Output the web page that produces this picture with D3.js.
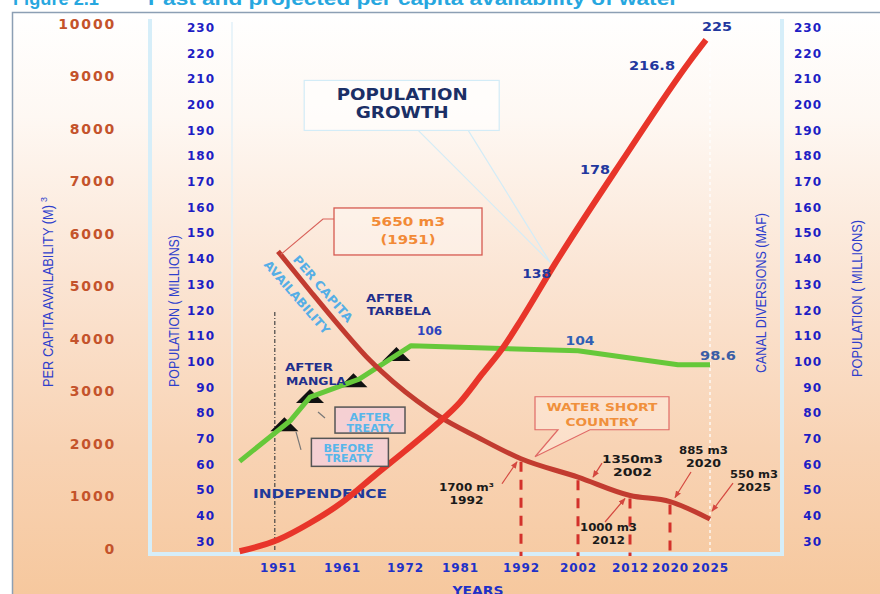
<!DOCTYPE html>
<html>
<head>
<meta charset="utf-8">
<script src="https://cdn.jsdelivr.net/npm/d3@7"></script>
<style>
  html, body { margin: 0; padding: 0; background: #fff; }
  svg { display: block; }
</style>
</head>
<body>
<svg id="chart" width="880" height="594"></svg>
<script>
// ---------------- data ----------------
const yearTicks = [1951, 1961, 1972, 1981, 1992, 2002, 2012, 2020, 2025];
const perCapitaTicks = d3.range(0, 10001, 1000);
const populationTicks = d3.range(30, 231, 10);

// population (millions)
const popYears  = [1945, 1951, 1956, 1961, 1967, 1972, 1977, 1981, 1985, 1989, 1992, 1998, 2010.5, 2022.5, 2024.5];
const popValues = [26, 30.5, 37, 45, 56, 65, 75, 84, 95, 106, 116, 138, 178, 216.8, 225];
const popLabelYears = [1998, 2010.5, 2022.5, 2024.5];

// per capita water availability (m3)
const perCapitaYears  = [1951, 1956, 1961, 1966, 1970, 1974, 1978, 1984, 1992, 2002, 2012, 2020, 2025];
const perCapitaValues = [5650, 4900, 4170, 3560, 3160, 2800, 2480, 2120, 1700, 1350, 1000, 885, 550];

// canal diversions (MAF)
const canalYears  = [1945, 1953, 1956, 1964, 1973, 2002, 2021, 2025];
const canalValues = [61, 77, 86, 93, 106, 104, 98.6, 98.6];
const canalLabelYears = [1973, 2002, 2025];

// storage milestones along the canal diversion line
const damYears = [1952, 1956, 1963, 1970.5];
const damNames = [["BEFORE", "TREATY"], ["AFTER", "TREATY"], ["AFTER", "MANGLA"], ["AFTER", "TARBELA"]];

const independenceYear = 1950.5;

// ---------------- helpers ----------------
const svg = d3.select("#chart");
const defs = svg.append("defs");
const FONT = "'DejaVu Sans', Verdana, sans-serif";
const SANS = "'Liberation Sans', Arial, sans-serif";

function txt(parent, s, x, y, o = {}) {
  const t = parent.append("text")
    .attr("x", x).attr("y", y)
    .attr("text-anchor", o.anchor || "middle")
    .attr("fill", o.fill || "#111")
    .style("font-family", o.family || FONT)
    .style("font-size", (o.size || 12) + "px")
    .style("font-weight", o.weight || "bold")
    .text(s);
  if (o.len) t.attr("textLength", o.len).attr("lengthAdjust", "spacingAndGlyphs");
  if (o.ls) t.attr("letter-spacing", o.ls);
  return t;
}

function interp(xs, ys, v) {
  const i = Math.max(1, Math.min(xs.length - 1, d3.bisectLeft(xs, v)));
  const t = (v - xs[i - 1]) / (xs[i] - xs[i - 1]);
  return ys[i - 1] + t * (ys[i] - ys[i - 1]);
}

// ---------------- scales ----------------
// the year axis of this chart is not uniform: each labelled year is its own stop
const x = d3.scaleLinear().domain(yearTicks).range([278, 342, 405, 460, 521, 578, 630, 670, 710]);
const yPC = d3.scaleLinear().domain([0, 10000]).range([548, 23]);
const yPop = d3.scaleLinear().domain([30, 230]).range([541, 27]);

const baseY = 554;

// ---------------- background ----------------
const grad = defs.append("linearGradient").attr("id", "bg")
  .attr("gradientUnits", "userSpaceOnUse")
  .attr("x1", 0).attr("y1", 12).attr("x2", 0).attr("y2", 594);
[[0, "#ffffff"], [0.18, "#fef8f3"], [0.45, "#fbe5d4"], [0.75, "#f8d3b4"], [1, "#f6c89e"]]
  .forEach(([o, c]) => grad.append("stop").attr("offset", o).attr("stop-color", c));

defs.append("marker").attr("id", "arrow")
  .attr("viewBox", "0 0 10 10").attr("refX", 9).attr("refY", 5)
  .attr("markerWidth", 6).attr("markerHeight", 6).attr("orient", "auto")
  .append("path").attr("d", "M0,1L10,5L0,9z").attr("fill", "#d4473f");

svg.append("rect").attr("width", 880).attr("height", 594).attr("fill", "#fff");

// figure caption
txt(svg, "Figure 2.1", 13, 5, { anchor: "start", fill: "#27a7df", size: 19, family: SANS, len: 86 });
txt(svg, "Past and projected per capita availability of water", 148, 5,
  { anchor: "start", fill: "#27a7df", size: 19, family: SANS, len: 530 });

svg.append("rect").attr("x", 12).attr("y", 12).attr("width", 880).attr("height", 600).attr("fill", "url(#bg)");
svg.append("path").attr("d", "M12.5,594V12.5H880").attr("fill", "none")
  .attr("stroke", "#8c9fb4").attr("stroke-width", 1.5);

// frame lines around the plotting area
svg.append("path").attr("d", `M150,19V${baseY}H782V19`).attr("fill", "none")
  .attr("stroke", "#d6eef9").attr("stroke-width", 4);
svg.append("line").attr("x1", 232).attr("x2", 232).attr("y1", 22).attr("y2", baseY - 2)
  .attr("stroke", "#e2f1f8").attr("stroke-width", 1.5);
svg.append("line").attr("x1", x(2025)).attr("x2", x(2025)).attr("y1", 20).attr("y2", baseY - 2)
  .attr("stroke", "#ffffff").attr("stroke-width", 1.4).attr("stroke-dasharray", "3,3").attr("opacity", 0.9);

// ---------------- population growth callout ----------------
{
  const tx = x(1998) - 5, ty = yPop(138) - 1;
  const g = svg.append("g");
  g.append("path")
    .attr("d", `M${tx - 132},${ty - 132}L${tx},${ty}L${tx - 82},${ty - 132}`)
    .attr("fill", "none").attr("stroke", "#d3ecf7").attr("stroke-width", 1.2);
  g.append("rect").attr("x", tx - 246).attr("y", ty - 182).attr("width", 195).attr("height", 50)
    .attr("fill", "rgba(255,255,255,0.6)").attr("stroke", "#d3ecf7").attr("stroke-width", 1.2);
  txt(g, "POPULATION", tx - 148, ty - 162, { fill: "#1b2f66", size: 15, len: 131 });
  txt(g, "GROWTH", tx - 148, ty - 144, { fill: "#1b2f66", size: 15, len: 93 });
}

// independence marker (the population line passes over its label)
svg.append("line")
  .attr("x1", x(independenceYear)).attr("x2", x(independenceYear))
  .attr("y1", 312).attr("y2", baseY - 2)
  .attr("stroke", "#444").attr("stroke-width", 1.2).attr("stroke-dasharray", "4,2,1,2");
txt(svg, "INDEPENDENCE", 320, 498, { fill: "#1f3a9a", size: 13, len: 134 });

// ---------------- per capita drop lines ----------------
const pcNotes = [
  { year: 1992, unit: " m³", dx: -54.5, dy: 28, len: [55, 34], from: [35.5, -3], to: [-4, 3], drop: true },
  { year: 2002, unit: "m3", dx: 54.5, dy: -18, len: [61, 39], from: [-30.5, 4], to: [15, 0], drop: true },
  { year: 2012, unit: " m3", dx: -21.5, dy: 31.5, len: [57, 33], from: [-3.5, -5], to: [-5, 3], drop: true },
  { year: 2020, unit: " m3", dx: 33.5, dy: -51.5, len: [49, 35], from: [-12.5, 22], to: [5, -4], drop: true },
  { year: 2025, unit: " m3", dx: 44, dy: -45, len: [48, 34], from: [-21, 9], to: [2, -8], drop: false }
];
pcNotes.forEach(n => {
  n.value = perCapitaValues[perCapitaYears.indexOf(n.year)];
  n.px = x(n.year); n.py = yPC(n.value);
});
svg.append("g").selectAll("line").data(pcNotes.filter(n => n.drop)).join("line")
  .attr("x1", d => d.px).attr("x2", d => d.px)
  .attr("y1", d => d.py + 3).attr("y2", baseY + 2)
  .attr("stroke", "#d3312b").attr("stroke-width", 3).attr("stroke-dasharray", "10,8");

// ---------------- dam markers ----------------
const dams = damYears.map((yr, i) => ({ year: yr, name: damNames[i], cx: x(yr), cy: yPop(interp(canalYears, canalValues, yr)) }));
svg.append("g").selectAll("path").data(dams).join("path")
  .attr("d", d => `M${d.cx},${d.cy - 8}L${d.cx + 14},${d.cy + 6}L${d.cx - 14},${d.cy + 6}Z`)
  .attr("fill", "#111");

// ---------------- lines ----------------
const canalLine = d3.line().x(d => x(d[0])).y(d => yPop(d[1]));
svg.append("path").datum(d3.zip(canalYears, canalValues))
  .attr("d", canalLine).attr("fill", "none")
  .attr("stroke", "#66c83a").attr("stroke-width", 5).attr("stroke-linejoin", "round");

const pcLine = d3.line().x(d => x(d[0])).y(d => yPC(d[1])).curve(d3.curveMonotoneX);
svg.append("path").datum(d3.zip(perCapitaYears, perCapitaValues))
  .attr("d", pcLine).attr("fill", "none")
  .attr("stroke", "#c23b30").attr("stroke-width", 5);

const popLine = d3.line().x(d => x(d[0])).y(d => yPop(d[1])).curve(d3.curveMonotoneX);
svg.append("path").datum(d3.zip(popYears, popValues))
  .attr("d", popLine).attr("fill", "none")
  .attr("stroke", "#e8352a").attr("stroke-width", 6);

// ---------------- annotations ----------------
const ann = svg.append("g");

// per capita start value box
{
  const v = perCapitaValues[0], yr = perCapitaYears[0];
  const px = x(yr), py = yPC(v);
  ann.append("polyline")
    .attr("points", `${px + 56},${py - 32.4} ${px + 45},${py - 32.4} ${px + 3},${py + 3}`)
    .attr("fill", "none").attr("stroke", "#d9625a").attr("stroke-width", 1.2);
  ann.append("rect").attr("x", px + 56).attr("y", py - 43.4).attr("width", 148).attr("height", 47)
    .attr("fill", "rgba(255,255,255,0.3)").attr("stroke", "#d65a50").attr("stroke-width", 1.3);
  txt(ann, `${v} m3`, px + 130, py - 25, { fill: "#f28a36", size: 13, len: 74 });
  txt(ann, `(${yr})`, px + 130, py - 7, { fill: "#f28a36", size: 13, len: 55 });
}

// per capita line label
{
  const g = ann.append("g").attr("transform", "translate(310,293) rotate(49)");
  txt(g, "PER CAPITA", 5.3, -12.6 + 4.3, { fill: "#55aee6", size: 12, len: 84 });
  txt(g, "AVAILABILITY", -5.3, 12.6 + 4.3, { fill: "#55aee6", size: 12, len: 93 });
}

// water short callout
{
  const tx = pcNotes[0].px + 14, ty = pcNotes[0].py - 2;
  ann.append("path")
    .attr("d", `M${tx},${ty - 60}H${tx + 134}V${ty - 27}H${tx + 55}L${tx},${ty}L${tx + 23},${ty - 27}H${tx}Z`)
    .attr("fill", "rgba(255,240,228,0.45)").attr("stroke", "#e06a66").attr("stroke-width", 1.2);
  txt(ann, "WATER SHORT", tx + 67, ty - 46, { fill: "#f0903c", size: 11, len: 111 });
  txt(ann, "COUNTRY", tx + 67, ty - 31, { fill: "#f0903c", size: 11, len: 73 });
}

// per capita value notes with arrows
pcNotes.forEach(n => {
  const lx = n.px + n.dx, ly = n.py + n.dy;
  ann.append("line")
    .attr("x1", lx + n.from[0]).attr("y1", ly + n.from[1])
    .attr("x2", n.px + n.to[0]).attr("y2", n.py + n.to[1])
    .attr("stroke", "#d4473f").attr("stroke-width", 1.2).attr("marker-end", "url(#arrow)");
  txt(ann, `${n.value}${n.unit}`, lx, ly + 4, { fill: "#1a1a1a", size: 11, len: n.len[0] });
  txt(ann, `${n.year}`, lx, ly + 17, { fill: "#1a1a1a", size: 11, len: n.len[1] });
});

// population values
const popNoteStyle = [
  { anchor: "end", dx: -4, dy: 9.6, len: 29 },
  { anchor: "end", dx: -12.2, dy: 8.4, len: 30 },
  { anchor: "end", dx: -15, dy: 4, len: 46 },
  { anchor: "start", dx: -4, dy: -14, len: 30 }
];
popLabelYears.forEach((yr, i) => {
  const v = popValues[popYears.indexOf(yr)], s = popNoteStyle[i];
  txt(ann, `${v}`, x(yr) + s.dx, yPop(v) + s.dy + 4.7,
    { anchor: s.anchor, fill: "#22379e", size: 13, len: s.len });
});

// canal diversion values
const canalNoteStyle = [
  { anchor: "start", dx: 6, dy: -14.7, len: 25, fill: "#2f45bf" },
  { anchor: "middle", dx: 2, dy: -10, len: 29, fill: "#2f5fb5" },
  { anchor: "start", dx: -10, dy: -9.5, len: 36, fill: "#3a5ea6" }
];
canalLabelYears.forEach((yr, i) => {
  const v = canalValues[canalYears.indexOf(yr)], s = canalNoteStyle[i];
  txt(ann, `${v}`, x(yr) + s.dx, yPop(v) + s.dy + 4.5,
    { anchor: s.anchor, fill: s.fill, size: 12, len: s.len });
});

// dam milestone labels
{
  const [before, after, mangla, tarbela] = dams;
  // before treaty
  ann.append("line").attr("x1", before.cx + 16.6).attr("y1", before.cy + 24.6)
    .attr("x2", before.cx + 11.6).attr("y2", before.cy + 6.6).attr("stroke", "#777").attr("stroke-width", 1.2);
  ann.append("rect").attr("x", before.cx + 27).attr("y", before.cy + 13).attr("width", 77).attr("height", 28)
    .attr("fill", "#f5d0d3").attr("stroke", "#555").attr("stroke-width", 1.5);
  txt(ann, before.name[0], before.cx + 64, before.cy + 26.5, { fill: "#58b6ea", size: 10, len: 50 });
  txt(ann, before.name[1], before.cx + 64, before.cy + 36.5, { fill: "#58b6ea", size: 10, len: 47 });
  // after treaty
  ann.append("line").attr("x1", after.cx + 15).attr("y1", after.cy + 21)
    .attr("x2", after.cx + 8).attr("y2", after.cy + 15).attr("stroke", "#777").attr("stroke-width", 1.2);
  ann.append("rect").attr("x", after.cx + 25).attr("y", after.cy + 10).attr("width", 70).attr("height", 26)
    .attr("fill", "#f5d0d3").attr("stroke", "#555").attr("stroke-width", 1.5);
  txt(ann, after.name[0], after.cx + 60, after.cy + 23.5, { fill: "#58b6ea", size: 10, len: 41 });
  txt(ann, after.name[1], after.cx + 60, after.cy + 34.5, { fill: "#58b6ea", size: 10, len: 47 });
  // Mangla and Tarbela
  txt(ann, mangla.name[0], mangla.cx - 68.5, mangla.cy - 10, { anchor: "start", fill: "#1f2f8c", size: 11, len: 48 });
  txt(ann, mangla.name[1], mangla.cx - 67.5, mangla.cy + 3.5, { anchor: "start", fill: "#1f2f8c", size: 11, len: 60 });
  txt(ann, tarbela.name[0], tarbela.cx - 30.4, tarbela.cy - 52.5, { anchor: "start", fill: "#1f2f8c", size: 11, len: 47 });
  txt(ann, tarbela.name[1], tarbela.cx - 29.4, tarbela.cy - 39.5, { anchor: "start", fill: "#1f2f8c", size: 11, len: 64 });
}

// ---------------- axes ----------------
function styleAxis(g, fill, size, ls) {
  g.select(".domain").remove();
  g.selectAll("text").attr("fill", fill)
    .style("font-family", FONT).style("font-size", size + "px").style("font-weight", "bold")
    .attr("letter-spacing", ls);
}

svg.append("g").attr("transform", "translate(116,0)")
  .call(d3.axisLeft(yPC).tickValues(perCapitaTicks).tickSize(0).tickPadding(0).tickFormat(d3.format("d")))
  .call(g => styleAxis(g, "#c4532b", 14, 1.8))
  .selectAll("text").attr("dy", "0.36em");

svg.append("g").attr("transform", "translate(215,0)")
  .call(d3.axisLeft(yPop).tickValues(populationTicks).tickSize(0).tickPadding(0))
  .call(g => styleAxis(g, "#1d1dc4", 12, 1))
  .selectAll("text").attr("dy", "0.36em");

svg.append("g").attr("transform", "translate(822,0)")
  .call(d3.axisLeft(yPop).tickValues(populationTicks).tickSize(0).tickPadding(0))
  .call(g => styleAxis(g, "#1d1dc4", 12, 1))
  .selectAll("text").attr("dy", "0.36em");

svg.append("g").attr("transform", "translate(0,563)")
  .call(d3.axisBottom(x).tickValues(yearTicks).tickSize(0).tickPadding(0).tickFormat(d3.format("d")))
  .call(g => styleAxis(g, "#2030c8", 12, 0.9));

txt(svg, "YEARS", 478, 595, { fill: "#2030c8", size: 12, len: 51 });

// rotated axis titles
function vTitle(s, bx, by, len) {
  return txt(svg.append("g").attr("transform", `translate(${bx},${by}) rotate(-90)`), s, 0, 0,
    { anchor: "start", fill: "#2f3fcc", size: 14, weight: "normal", family: SANS, len });
}
vTitle("PER CAPITA AVAILABILITY (M)", 53, 387, 182);
txt(svg.append("g").attr("transform", "translate(47,202) rotate(-90)"), "3", 0, 0,
  { anchor: "start", fill: "#2f3fcc", size: 9, weight: "normal", family: SANS });
vTitle("POPULATION ( MILLIONS)", 179, 387, 152);
vTitle("CANAL DIVERSIONS (MAF)", 766, 373, 160);
vTitle("POPULATION ( MILLIONS)", 862, 377, 157);
</script>
</body>
</html>
